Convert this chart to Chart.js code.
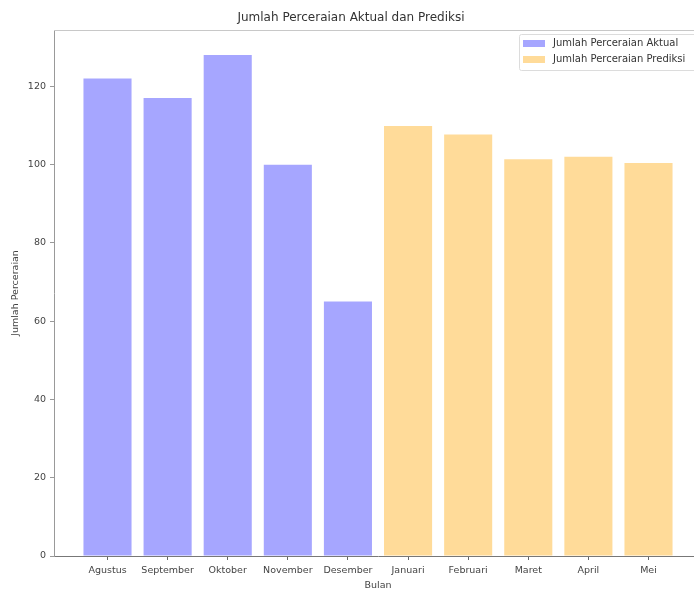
<!DOCTYPE html>
<html>
<head>
<meta charset="utf-8">
<script src="https://cdn.jsdelivr.net/npm/chart.js@4/dist/chart.umd.min.js"></script>
<style>
  html, body { margin: 0; padding: 0; background: #fff; overflow: hidden; }
  #wrap { width: 712px; height: 591px; position: relative; }
</style>
</head>
<body>
<div id="wrap"><canvas id="chart"></canvas></div>
<script>
// months on the x axis
var bulan = ["Agustus", "September", "Oktober", "November", "Desember",
             "Januari", "Februari", "Maret", "April", "Mei"];
// actual divorce counts (Agustus - Desember)
var aktual = [122, 117, 128, 100, 65];
// predicted counts (Januari - Mei)
var prediksi = [109.9, 107.7, 101.4, 102.0, 100.4];
var yTicks = [0, 20, 40, 60, 80, 100, 120];

var aktualPts = aktual.map(function(v, i){ return {x: i, y: v}; });
var prediksiPts = prediksi.map(function(v, i){ return {x: i + aktual.length, y: v}; });

var fontFam = "'DejaVu Sans', sans-serif";

// legend box drawn inside the plot, top right, plus the frame
var insideLegend = {
  id: 'insideLegend',
  afterDraw: function(chart) {
    var ctx = chart.ctx, a = chart.chartArea;
    ctx.save();
    ctx.strokeStyle = '#c8c8c8';
    ctx.lineWidth = 1;
    ctx.beginPath();
    ctx.moveTo(a.left, a.top + 0.5);
    ctx.lineTo(a.right, a.top + 0.5);
    ctx.lineTo(a.right, a.bottom);
    ctx.stroke();

    var x0 = 519, y0 = 34, w = 190, h = 36;
    ctx.fillStyle = 'rgba(255,255,255,0.8)';
    ctx.strokeStyle = '#dcdcdc';
    ctx.beginPath();
    ctx.roundRect(x0 + 0.5, y0 + 0.5, w, h, 2);
    ctx.fill();
    ctx.stroke();

    ctx.font = '10px ' + fontFam;
    ctx.textBaseline = 'middle';
    chart.data.datasets.forEach(function(ds, i) {
      var cy = y0 + 9.5 + i * 16;
      ctx.fillStyle = ds.backgroundColor;
      ctx.fillRect(523, cy - 3.5, 22, 7);
      ctx.fillStyle = '#333';
      ctx.fillText(ds.label, 553, cy);
    });
    ctx.restore();
  }
};

new Chart(document.getElementById("chart"), {
  type: 'bar',
  data: {
    datasets: [
      {
        label: "Jumlah Perceraian Aktual",
        data: aktualPts,
        backgroundColor: "rgba(0,0,255,0.35)",
        grouped: false,
        barPercentage: 0.8,
        categoryPercentage: 1.0
      },
      {
        label: "Jumlah Perceraian Prediksi",
        data: prediksiPts,
        backgroundColor: "rgba(255,165,0,0.4)",
        grouped: false,
        barPercentage: 0.8,
        categoryPercentage: 1.0
      }
    ]
  },
  options: {
    responsive: true,
    maintainAspectRatio: false,
    animation: false,
    events: [],
    layout: { padding: { left: 0, right: 10, top: 0, bottom: 0 } },
    plugins: {
      legend: { display: false },
      tooltip: { enabled: false },
      title: {
        display: true,
        text: 'Jumlah Perceraian Aktual dan Prediksi',
        color: '#333',
        font: { family: fontFam, size: 12, weight: 'normal' },
        padding: { top: 11, bottom: 4.6 }
      }
    },
    scales: {
      x: {
        type: 'linear',
        offset: false,
        min: -0.89,
        max: 9.89,
        afterBuildTicks: function(scale) {
          scale.ticks = bulan.map(function(_, i){ return {value: i}; });
        },
        afterFit: function(scale) { scale.height = 35; },
        ticks: {
          autoSkip: false,
          maxRotation: 0,
          padding: 5,
          color: '#444',
          font: { family: fontFam, size: 9.5 },
          callback: function(v) { return bulan[v]; }
        },
        grid: { offset: false, drawOnChartArea: false, drawTicks: true, tickLength: 4, color: '#666' },
        border: { color: '#777', width: 1 },
        title: {
          display: true, text: 'Bulan', color: '#444',
          font: { family: fontFam, size: 9.5 }, padding: { top: 0, bottom: 0 }
        }
      },
      y: {
        min: 0,
        max: 134.4,
        afterBuildTicks: function(scale) {
          scale.ticks = yTicks.map(function(v){ return {value: v}; });
        },
        afterFit: function(scale) { scale.width = 54; },
        ticks: {
          padding: 4,
          color: '#444',
          font: { family: fontFam, size: 9.5 }
        },
        grid: { drawOnChartArea: false, drawTicks: true, tickLength: 4, color: '#999' },
        border: { color: '#999', width: 1 },
        title: {
          display: true, text: 'Jumlah Perceraian', color: '#444',
          font: { family: fontFam, size: 9.5 }, padding: { top: 10, bottom: 0 }
        }
      }
    }
  },
  plugins: [insideLegend]
});
</script>
</body>
</html>
